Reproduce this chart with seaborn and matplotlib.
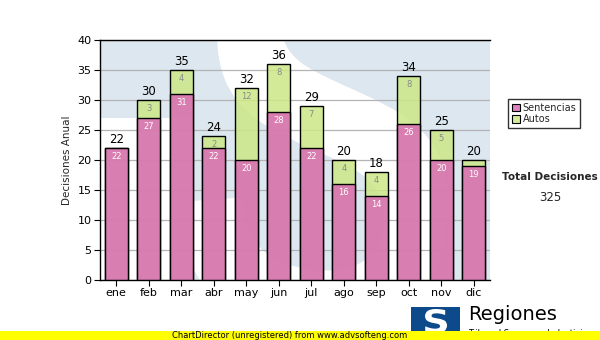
import matplotlib
matplotlib.use("Agg")
import matplotlib.pyplot as plt
import matplotlib.patches as mpatches
from matplotlib.textpath import TextPath
from matplotlib.font_manager import FontProperties
from matplotlib.transforms import Affine2D
import seaborn as sns
import pandas as pd

months = ["ene", "feb", "mar", "abr", "may", "jun", "jul", "ago", "sep", "oct", "nov", "dic"]
sentencias = [22, 27, 31, 22, 20, 28, 22, 16, 14, 26, 20, 19]
autos = [0, 3, 4, 2, 12, 8, 7, 4, 4, 8, 5, 1]

totals = [s + a for s, a in zip(sentencias, autos)]
df = pd.DataFrame({"mes": months, "Sentencias": sentencias, "Autos": autos, "Total": totals})

PINK = (0.85, 0.42, 0.71, 0.85)
GREEN = (0.80, 0.905, 0.525, 0.85)
LOGO_BG = "#dde7f0"

sns.set_style("white")
plt.rcParams["font.family"] = ["DejaVu Sans"]

fig = plt.figure(figsize=(6, 3.4), dpi=100)
fig.patch.set_facecolor("white")
ax = fig.add_axes([100 / 600, 1 - 280 / 340, 390 / 600, 240 / 340])
ax.set_facecolor("white")

# pixel coordinates measured from the top-left corner of the figure
px = Affine2D().scale(1 / 600, -1 / 340).translate(0, 1) + fig.transFigure

# faded logo behind the bars: pale blue square with a white "S"
bg = mpatches.Polygon([(100, 40), (490, 40), (490, 280), (192, 280), (192, 118), (100, 118)],
                      closed=True, facecolor=LOGO_BG, edgecolor="none", transform=px, zorder=0.1)
ax.add_patch(bg)
glyph = TextPath((0, 0), "S", size=100,
                 prop=FontProperties(family="Liberation Sans", weight="bold"))
ext = glyph.get_extents()
S_W, S_H, S_CX, S_CY = 270, 420, 325, 124
glyph_tr = (Affine2D().translate(-ext.x0 - ext.width / 2, -ext.y0 - ext.height / 2)
            .scale(S_W / ext.width, -S_H / ext.height)
            .rotate_deg(8).translate(S_CX, S_CY) + px)
s_patch = mpatches.PathPatch(glyph, facecolor="white", edgecolor="none", transform=glyph_tr,
                             zorder=0.2)
ax.add_patch(s_patch)
backdrop = (bg, s_patch)
for p in backdrop:
    p.set_clip_path(ax.patch)

# stacked bars: totals (green) underneath, sentencias (pink) over them
sns.barplot(data=df, x="mes", y="Total", color="#cce786", width=0.7, edgecolor="black",
            linewidth=1.0, saturation=1, ax=ax, zorder=3)
sns.barplot(data=df, x="mes", y="Sentencias", color="#d96cb5", width=0.7, edgecolor="black",
            linewidth=1.0, saturation=1, ax=ax, zorder=4)
bars = [p for p in ax.patches if p not in backdrop]
for k, p in enumerate(bars):
    p.set_facecolor(GREEN if k < len(months) else PINK)

ax.set_xlim(-0.5, 11.5)
ax.set_ylim(0, 40)
ax.set_yticks(range(0, 41, 5))
ax.yaxis.grid(True, color="#b4b4b4", linewidth=0.9, zorder=1)
ax.set_axisbelow(True)
ax.set_xlabel("")
ax.set_ylabel("Decisiones Anual", fontsize=7.5, labelpad=4)
ax.tick_params(axis="both", direction="out", length=4, width=0.8, labelsize=8, colors="black",
               left=True, bottom=True, pad=2)
for side in ["top", "left", "bottom"]:
    ax.spines[side].set_color("black")
    ax.spines[side].set_linewidth(1.0)
ax.spines["right"].set_visible(False)

for i, (s, a, t) in enumerate(zip(sentencias, autos, totals)):
    ax.text(i, t + 0.4, str(t), ha="center", va="bottom", fontsize=8.5, color="black", zorder=6)
    ax.text(i, s - 0.7, str(s), ha="center", va="top", fontsize=6, color="white", zorder=6)
    if a >= 2:
        ax.text(i, t - 0.7, str(a), ha="center", va="top", fontsize=6, color="#8a8a8a", zorder=6)

# legend box
handles = [mpatches.Patch(facecolor="#df82c0", edgecolor="black", linewidth=0.8, label="Sentencias"),
           mpatches.Patch(facecolor="#d4eb98", edgecolor="black", linewidth=0.8, label="Autos")]
fig.legend(handles=handles, loc="upper left", bbox_to_anchor=(508 / 600, 1 - 99 / 340),
           fontsize=7, frameon=True, fancybox=False, edgecolor="black", handlelength=0.8,
           handleheight=0.8, handletextpad=0.3, borderpad=0.4, labelspacing=0.15,
           borderaxespad=0)

fig.text(550 / 600, 1 - 177 / 340, "Total Decisiones", ha="center", va="center",
         fontsize=7.5, fontweight="bold")
fig.text(550 / 600, 1 - 197 / 340, str(sum(totals)), ha="center", va="center", fontsize=8.5)

# footer logo
fig.patches.append(mpatches.Rectangle((411, 331), 49, -24, transform=px,
                                      facecolor="#0d4a8c", edgecolor="none", zorder=2))
logo_s = TextPath((0, 0), "S", size=100, prop=FontProperties(family="DejaVu Sans", weight="bold"))
le = logo_s.get_extents()
logo_tr = (Affine2D().translate(-le.x0, -le.y0).scale(22 / le.width, -24 / le.height)
           .translate(425, 333) + px)
fig.patches.append(mpatches.PathPatch(logo_s, facecolor="white", edgecolor="none",
                                      transform=logo_tr, zorder=3))
fig.text(468 / 600, 1 - 315 / 340, "Regiones", ha="left", va="center", fontsize=14,
         color="black", zorder=3)
fig.text(468 / 600, 1 - 334 / 340, "Tribunal Supremo de Justicia", ha="left", va="center",
         fontsize=6, color="black", zorder=1)

# bottom banner
fig.patches.append(mpatches.Rectangle((0, 340), 600, -9, transform=px,
                                      facecolor="#ffff00", edgecolor="none", zorder=4))
fig.text(290 / 600, 4.5 / 340, "ChartDirector (unregistered) from www.advsofteng.com",
         ha="center", va="center", fontsize=6, color="black", zorder=5)

fig.savefig("out.png", dpi=100, facecolor="white")
